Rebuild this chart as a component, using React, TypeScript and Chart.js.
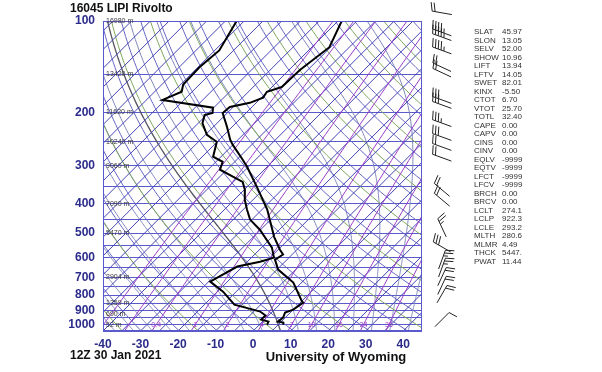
import React, { useEffect, useRef } from "react";
import { Chart, registerables } from "chart.js";

Chart.register(...registerables);

const stationTitle = "16045 LIPI Rivolto";
const timeLabel = "12Z 30 Jan 2021";
const creditLabel = "University of Wyoming";

const pressureGrid = [100, 150, 200, 250, 300, 350, 400, 450, 500, 550, 600, 650, 700, 750, 800, 850, 900, 950, 1000, 1050];
const pressureLabels = [100, 200, 300, 400, 500, 600, 700, 800, 900, 1000];
const temperatureTicks = [-40, -30, -20, -10, 0, 10, 20, 30, 40];

const tempPressure = [100, 122, 145, 165, 171, 179, 186, 192, 201, 223, 246, 256, 287, 302, 352, 418, 514, 567, 588, 611, 659, 727, 840, 847, 893, 913, 948, 978, 985, 1000];
const tempValues = [-59.0, -55.3, -57.1, -57.4, -60.1, -59.5, -61.7, -65.9, -66.2, -61.4, -57.1, -55.0, -48.3, -45.4, -37.4, -28.6, -19.5, -14.5, -12.4, -13.2, -9.7, -2.2, 5.2, 5.8, 5.0, 3.6, 4.4, 4.1, 5.8, 6.3];

const dewPressure = [100, 125, 142, 162, 171, 182, 193, 201, 204, 217, 237, 250, 280, 291, 309, 339, 360, 388, 418, 451, 487, 558, 602, 621, 644, 722, 779, 860, 893, 906, 934, 963, 978, 1000];
const dewValues = [-87.0, -83.8, -84.6, -84.3, -82.8, -85.7, -70.2, -68.9, -70.5, -68.9, -64.6, -60.1, -57.1, -53.2, -51.8, -42.5, -39.8, -37.2, -34.0, -30.5, -25.2, -17.2, -14.0, -16.6, -21.4, -24.6, -18.5, -12.0, -5.7, -3.3, -0.8, -0.9, 1.6, 2.0];

const heightPressure = [100, 150, 200, 250, 300, 400, 500, 700, 850, 925, 1000];
const heightLabels = ["16980 m", "13420 m", "11620 m", "10240 m", "9060 m", "7090 m", "5470 m", "2904 m", "1359 m", "690 m", "52 m"];

const mixingRatios = [0.1, 0.2, 0.4, 1, 2, 4, 7, 10, 16, 24, 36];
const mixingLabels = ["", "", "0.4", "1", "2", "4", "7", "10", "16", "24", "36"];

const windPressure = [94, 109, 113, 125, 142, 148, 182, 189, 217, 241, 260, 282, 360, 388, 480, 555, 611, 649, 695, 743, 794, 963];
const windDirection = [280, 290, 290, 290, 295, 295, 290, 290, 290, 290, 290, 290, 310, 310, 335, 300, 20, 20, 25, 25, 30, 45];
const windSpeed = [20, 45, 45, 45, 20, 20, 30, 30, 35, 30, 20, 20, 20, 20, 25, 30, 25, 25, 20, 20, 20, 10];

const indexNames = ["SLAT", "SLON", "SELV", "SHOW", "LIFT", "LFTV", "SWET", "KINX", "CTOT", "VTOT", "TOTL", "CAPE", "CAPV", "CINS", "CINV", "EQLV", "EQTV", "LFCT", "LFCV", "BRCH", "BRCV", "LCLT", "LCLP", "LCLE", "MLTH", "MLMR", "THCK", "PWAT"];
const indexValues = ["45.97", "13.05", "52.00", "10.96", "13.94", "14.05", "82.01", "-5.50", "6.70", "25.70", "32.40", "0.00", "0.00", "0.00", "0.00", "-9999", "-9999", "-9999", "-9999", "0.00", "0.00", "274.1", "922.3", "293.2", "280.6", "4.49", "5447.", "11.44"];

// skew-T geometry
const P_BASE = 1050;
const SKEW = 80.9; // deg C per decade of pressure (45 degree isotherms)
const skewX = (t: number, p: number) => t + SKEW * Math.log10(P_BASE / p);

const FONT = "'Liberation Sans', Arial, Helvetica, sans-serif";

function logSamples(n: number): number[] {
  const out: number[] = [];
  for (let i = 0; i <= n; i++) out.push(P_BASE * Math.pow(100 / P_BASE, i / n));
  return out;
}

function moistRate(T: number, p: number) {
  const Rd = 287.04, Cp = 1005.7, Lv = 2.501e6, eps = 0.622;
  const Tc = T - 273.15;
  const es = 6.112 * Math.exp((17.67 * Tc) / (Tc + 243.5));
  const rs = (eps * es) / Math.max(p - es, 1);
  const num = Rd * T + Lv * rs;
  const den = Cp + (Lv * Lv * rs * eps) / (Rd * T * T);
  return num / den / p;
}

function moistAdiabat(twC: number): [number, number][] {
  let T = twC + 273.15;
  let p = 1000;
  const dp = 5;
  while (p < P_BASE) {
    const k1 = moistRate(T, p);
    const k2 = moistRate(T + k1 * dp / 2, p + dp / 2);
    T += k2 * dp;
    p += dp;
  }
  const pts: [number, number][] = [[T - 273.15, p]];
  while (p > 100) {
    const h = -dp;
    const k1 = moistRate(T, p);
    const k2 = moistRate(T + k1 * h / 2, p + h / 2);
    T += k2 * h;
    p += h;
    pts.push([T - 273.15, p]);
  }
  return pts;
}

function mixingTemp(w: number, p: number) {
  const e = (p * w) / (622 + w);
  const l = Math.log(e / 6.112);
  return (243.5 * l) / (17.67 - l);
}

function drawBarb(ctx: CanvasRenderingContext2D, cx: number, cy: number, dir: number, spd: number) {
  const L = 20, F = 9, gap = 3;
  const r = (dir * Math.PI) / 180;
  const ux = Math.sin(r), uy = -Math.cos(r);
  const bx = cx - (ux * L) / 2, by = cy - (uy * L) / 2;
  const tx = bx + ux * L, ty = by + uy * L;
  const px = -uy, py = ux;
  const fx = px * 0.96 + ux * 0.28, fy = py * 0.96 + uy * 0.28;
  ctx.beginPath();
  ctx.moveTo(bx, by);
  ctx.lineTo(tx, ty);
  ctx.stroke();
  let s = Math.round(spd / 5) * 5;
  let pos = 0;
  while (s >= 50) {
    const sx = tx - ux * pos, sy = ty - uy * pos;
    ctx.beginPath();
    ctx.moveTo(sx, sy);
    ctx.lineTo(sx + px * F, sy + py * F);
    ctx.lineTo(sx - ux * 4, sy - uy * 4);
    ctx.closePath();
    ctx.fill();
    pos += 5;
    s -= 50;
  }
  while (s >= 10) {
    const sx = tx - ux * pos, sy = ty - uy * pos;
    ctx.beginPath();
    ctx.moveTo(sx, sy);
    ctx.lineTo(sx + fx * F, sy + fy * F);
    ctx.stroke();
    pos += gap;
    s -= 10;
  }
  if (s >= 5) {
    if (pos === 0) pos = gap;
    const sx = tx - ux * pos, sy = ty - uy * pos;
    ctx.beginPath();
    ctx.moveTo(sx, sy);
    ctx.lineTo(sx + fx * F * 0.5, sy + fy * F * 0.5);
    ctx.stroke();
  }
}

const skewPlugin = {
  id: "skewtBackground",
  beforeDatasetsDraw(chart: any) {
    const { ctx, chartArea: a, scales } = chart;
    const xs = scales.x, ys = scales.y;
    const pt = (t: number, p: number): [number, number] => [xs.getPixelForValue(skewX(t, p)), ys.getPixelForValue(p)];
    const samples = logSamples(60);
    ctx.save();
    ctx.beginPath();
    ctx.rect(a.left, a.top, a.right - a.left, a.bottom - a.top);
    ctx.clip();
    ctx.lineWidth = 1;

    // moist adiabats
    for (let tw = -40; tw <= 45; tw += 5) {
      const pts = moistAdiabat(tw);
      ctx.strokeStyle = tw === 5 ? "#555560" : "#8088bc";
      ctx.lineWidth = tw === 5 ? 1.3 : 1;
      ctx.beginPath();
      pts.forEach(([t, p], i) => {
        const [X, Y] = pt(t, p);
        if (i === 0) ctx.moveTo(X, Y);
        else ctx.lineTo(X, Y);
      });
      ctx.stroke();
    }
    ctx.lineWidth = 1;

    // dry adiabats
    for (let th = 200; th <= 500; th += 10) {
      ctx.strokeStyle = "#6666c4";
      ctx.beginPath();
      samples.forEach((p, i) => {
        const t = th * Math.pow(p / 1000, 0.2857) - 273.15;
        const [X, Y] = pt(t, p);
        if (i === 0) ctx.moveTo(X, Y);
        else ctx.lineTo(X, Y);
      });
      ctx.stroke();
    }
    // green dry adiabats
    for (let th = 215; th <= 515; th += 20) {
      ctx.strokeStyle = "#7fa85e";
      ctx.beginPath();
      samples.forEach((p, i) => {
        const t = th * Math.pow(p / 1000, 0.2857) - 273.15;
        const [X, Y] = pt(t, p);
        if (i === 0) ctx.moveTo(X, Y);
        else ctx.lineTo(X, Y);
      });
      ctx.stroke();
    }

    // isotherms
    ctx.strokeStyle = "#4545b5";
    for (let t = -130; t <= 45; t += 5) {
      const [x1, y1] = pt(t, P_BASE);
      const [x2, y2] = pt(t, 100);
      ctx.beginPath();
      ctx.moveTo(x1, y1);
      ctx.lineTo(x2, y2);
      ctx.stroke();
    }

    // mixing ratio lines
    ctx.strokeStyle = "#9a3cc6";
    mixingRatios.forEach((w) => {
      ctx.beginPath();
      samples.forEach((p, i) => {
        const [X, Y] = pt(mixingTemp(w, p), p);
        if (i === 0) ctx.moveTo(X, Y);
        else ctx.lineTo(X, Y);
      });
      ctx.stroke();
    });
    ctx.restore();
  },
  afterDraw(chart: any) {
    const { ctx, chartArea: a, scales } = chart;
    const xs = scales.x, ys = scales.y;
    ctx.save();
    // frame
    ctx.strokeStyle = "#5a5acd";
    ctx.lineWidth = 1;
    ctx.strokeRect(a.left + 0.5, a.top + 0.5, a.right - a.left - 1, a.bottom - a.top - 1);

    // height labels
    ctx.fillStyle = "#3a3a3a";
    ctx.font = `7px ${FONT}`;
    ctx.textAlign = "left";
    ctx.textBaseline = "middle";
    heightPressure.forEach((p, i) => {
      ctx.fillText(heightLabels[i], a.left + 3, ys.getPixelForValue(p));
    });

    // mixing ratio labels
    ctx.fillStyle = "#9a3cc6";
    ctx.textAlign = "center";
    mixingRatios.forEach((w, i) => {
      if (!mixingLabels[i]) return;
      const p = 1000;
      ctx.fillText(mixingLabels[i], xs.getPixelForValue(skewX(mixingTemp(w, p), p)), ys.getPixelForValue(p));
    });

    // wind barbs
    ctx.strokeStyle = "#222";
    ctx.fillStyle = "#222";
    ctx.lineWidth = 1;
    windPressure.forEach((p, i) => {
      drawBarb(ctx, 442, ys.getPixelForValue(p), windDirection[i], windSpeed[i]);
    });

    // station indices
    ctx.fillStyle = "#333";
    ctx.font = `8px ${FONT}`;
    ctx.textAlign = "left";
    ctx.textBaseline = "middle";
    indexNames.forEach((n, i) => {
      const y = 32 + i * 8.5;
      ctx.fillText(n, 474, y);
      ctx.fillText(indexValues[i], 502, y);
    });

    // titles
    ctx.fillStyle = "#111";
    ctx.font = `bold 12px ${FONT}`;
    ctx.textAlign = "left";
    ctx.fillText(stationTitle, 70, 9);
    ctx.fillText(timeLabel, 70, 356);
    ctx.textAlign = "center";
    ctx.font = `bold 13px ${FONT}`;
    ctx.fillText(creditLabel, 336, 357);
    ctx.restore();
  },
};

export default function App() {
  const canvasRef = useRef<HTMLCanvasElement | null>(null);

  useEffect(() => {
    document.body.style.margin = "0";
    const canvas = canvasRef.current;
    if (!canvas) return;
    const temperatureData = tempPressure.map((p, i) => ({ x: skewX(tempValues[i], p), y: p }));
    const dewpointData = dewPressure.map((p, i) => ({ x: skewX(dewValues[i], p), y: p }));

    const chart = new Chart(canvas, {
      type: "line",
      data: {
        datasets: [
          { label: "Temperature", data: temperatureData, borderColor: "#000", borderWidth: 2, pointRadius: 0, tension: 0 },
          { label: "Dewpoint", data: dewpointData, borderColor: "#000", borderWidth: 2, pointRadius: 0, tension: 0 },
        ],
      },
      options: {
        animation: false,
        responsive: false,
        devicePixelRatio: 1,
        events: [],
        layout: { padding: { left: 0, right: 180, top: 21, bottom: 0 } },
        plugins: { legend: { display: false }, title: { display: false }, tooltip: { enabled: false } },
        scales: {
          x: {
            type: "linear",
            min: -40,
            max: 45,
            grid: { display: false, drawTicks: false },
            border: { display: false },
            afterBuildTicks: (axis: any) => {
              axis.ticks = temperatureTicks.map((v) => ({ value: v }));
            },
            afterFit: (axis: any) => {
              axis.height = 41;
            },
            ticks: {
              padding: 6,
              autoSkip: false,
              maxRotation: 0,
              color: "#2b2b8c",
              font: { family: FONT, size: 12, weight: "bold" },
              callback: (v: any) => String(v),
            },
          },
          y: {
            type: "logarithmic",
            min: 100,
            max: 1050,
            reverse: true,
            grid: { color: "#5a5acd", lineWidth: 1, drawTicks: false },
            border: { display: true, color: "#5a5acd" },
            afterBuildTicks: (axis: any) => {
              axis.ticks = pressureGrid.map((v) => ({ value: v }));
            },
            afterFit: (axis: any) => {
              axis.width = 103;
            },
            ticks: {
              padding: 8,
              autoSkip: false,
              color: "#2b2b8c",
              font: { family: FONT, size: 12, weight: "bold" },
              callback: (v: any) => (pressureLabels.includes(Number(v)) ? String(v) : ""),
            },
          },
        },
      },
      plugins: [skewPlugin],
    } as any);
    return () => chart.destroy();
  }, []);

  return (
    <div style={{ position: "absolute", left: 0, top: 0, width: 602, height: 372 }}>
      <canvas ref={canvasRef} width={602} height={372} style={{ width: 602, height: 372 }} />
    </div>
  );
}
